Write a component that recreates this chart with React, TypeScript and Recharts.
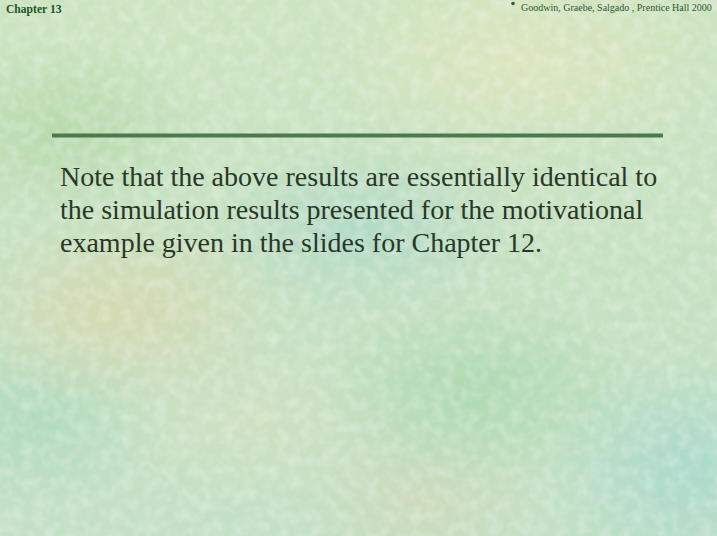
import React from "react";
import { ComposedChart, XAxis, YAxis, ReferenceLine, Customized } from "recharts";

const W = 717;
const H = 536;

// slide content
const headerLeft = "Chapter 13";
const headerRight = "Goodwin, Graebe, Salgado , Prentice Hall 2000";
const bodyLines = [
  "Note that the above results are essentially identical to",
  "the simulation results presented for the motivational",
  "example given in the slides for Chapter 12.",
];
const rule = [
  { x: 52, y: 135.5 },
  { x: 663, y: 135.5 },
];

const background = [
  "radial-gradient(ellipse 170px 100px at 120px 310px, rgba(222,212,165,0.6), rgba(222,212,165,0) 100%)",
  "radial-gradient(ellipse 160px 90px at 360px 230px, rgba(170,215,200,0.7), rgba(170,215,200,0) 100%)",
  "radial-gradient(ellipse 200px 110px at 520px 60px, rgba(226,230,190,0.7), rgba(226,230,190,0) 100%)",
  "radial-gradient(ellipse 150px 120px at 690px 470px, rgba(160,215,205,0.7), rgba(160,215,205,0) 100%)",
  "radial-gradient(ellipse 170px 100px at 480px 390px, rgba(165,215,170,0.7), rgba(165,215,170,0) 100%)",
  "radial-gradient(ellipse 150px 90px at 60px 130px, rgba(175,215,165,0.7), rgba(175,215,165,0) 100%)",
  "radial-gradient(ellipse 160px 90px at 250px 420px, rgba(215,225,190,0.6), rgba(215,225,190,0) 100%)",
  "radial-gradient(ellipse 140px 80px at 420px 500px, rgba(210,215,180,0.6), rgba(210,215,180,0) 100%)",
  "radial-gradient(ellipse 140px 90px at 30px 420px, rgba(165,215,185,0.6), rgba(165,215,185,0) 100%)",
  "linear-gradient(180deg, #cde4c0 0%, #c6e1c2 50%, #c3e0c6 100%)",
].join(", ");

function SlideText() {
  return (
    <g>
      <defs>
        <filter id="grain" x="0" y="0" width="100%" height="100%">
          <feTurbulence type="fractalNoise" baseFrequency="0.09" numOctaves="2" seed="3" />
          <feColorMatrix
            type="matrix"
            values="0 0 0 0 1  0 0 0 0 1  0 0 0 0 1  0 0 0 -1.6 1.0"
          />
        </filter>
      </defs>
      <rect x={0} y={0} width={W} height={H} filter="url(#grain)" opacity={0.35} />
      <text
        x={6}
        y={13}
        fontFamily="Liberation Serif"
        fontWeight="bold"
        fontSize={11.6}
        fill="#1e5428"
      >
        {headerLeft}
      </text>
      <circle cx={513} cy={3.5} r={1.8} fill="#2d5a35" />
      <text x={521} y={11} fontFamily="Liberation Serif" fontSize={10} fill="#2d5a35">
        {headerRight}
      </text>
      {bodyLines.map((line, i) => (
        <text
          key={i}
          x={60}
          y={186 + i * 33}
          fontFamily="Liberation Serif"
          fontSize={28}
          fill="#283828"
        >
          {line}
        </text>
      ))}
    </g>
  );
}

export default function App() {
  return (
    <div
      style={{
        position: "fixed",
        left: 0,
        top: 0,
        width: W,
        height: H,
        background,
      }}
    >
      <ComposedChart width={W} height={H} data={[]} margin={{ top: 0, right: 0, bottom: 0, left: 0 }}>
        <XAxis type="number" dataKey="x" domain={[0, W]} hide allowDataOverflow />
        <YAxis type="number" domain={[0, H]} reversed hide allowDataOverflow />
        <Customized component={<SlideText />} />
        <ReferenceLine segment={rule} stroke="#4b7a4f" strokeWidth={4} ifOverflow="visible" />
      </ComposedChart>
    </div>
  );
}
